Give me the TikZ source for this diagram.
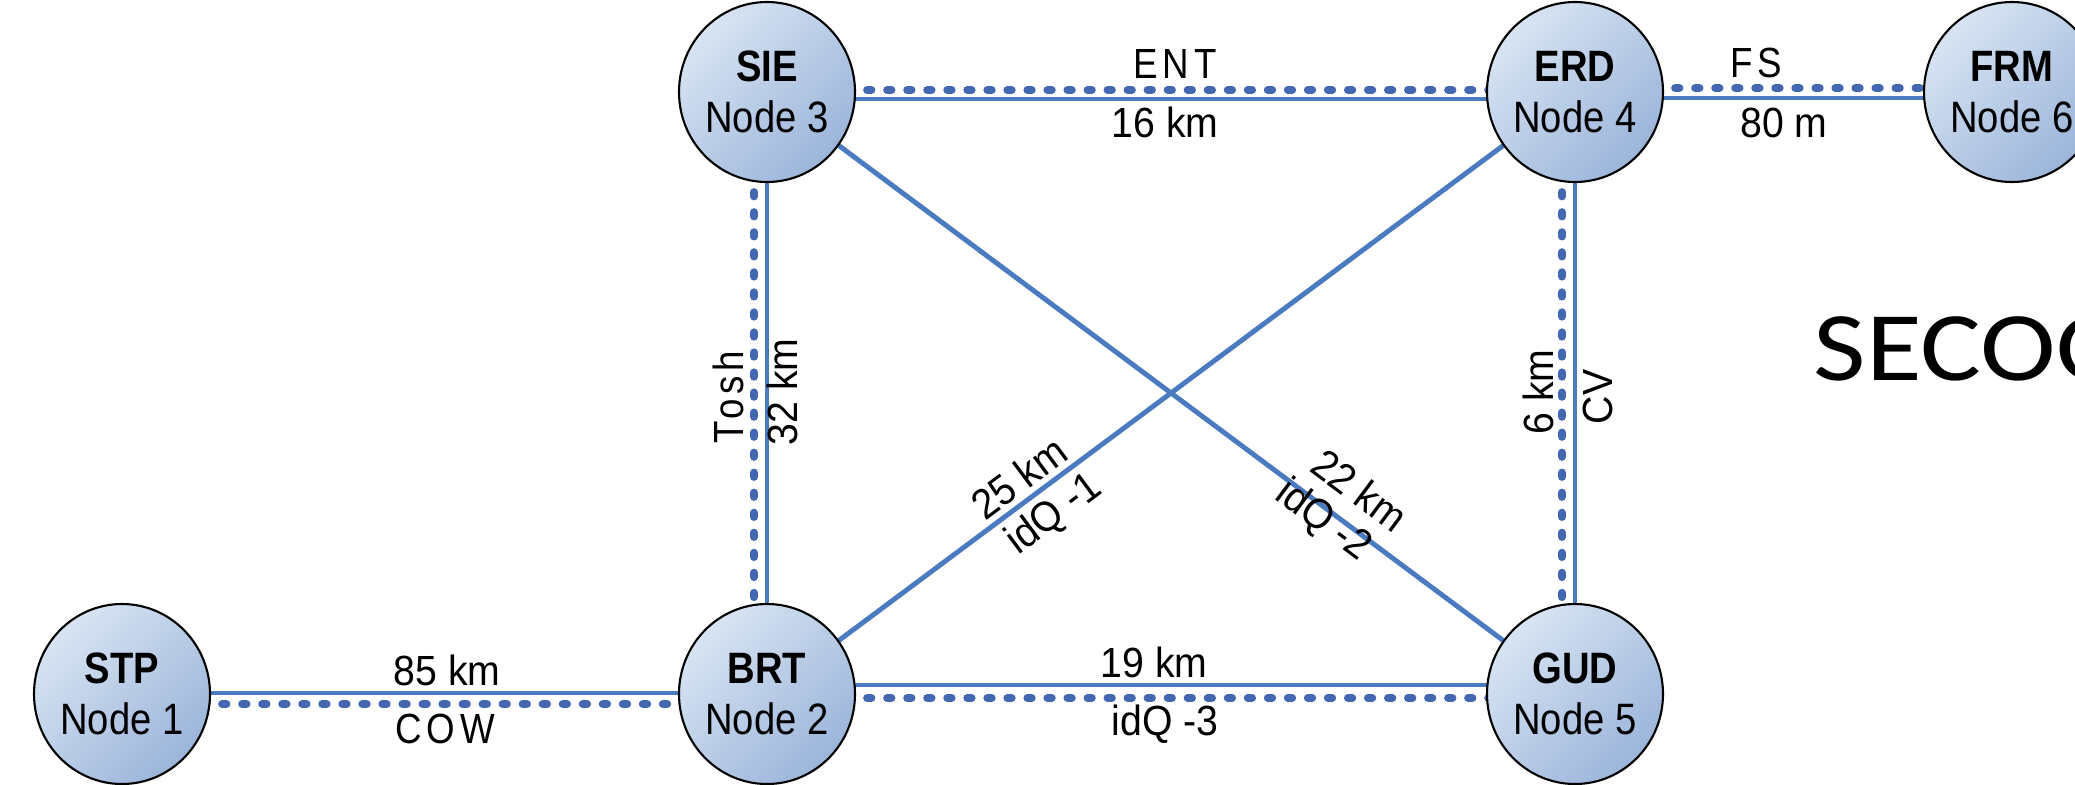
\documentclass[tikz,border=0pt]{standalone}
\usepackage{fontspec}
\setmainfont{Liberation Sans}[FakeStretch=0.87]
\newfontfamily\labelfont{Liberation Sans}[FakeStretch=0.93]
\newfontfamily\spacedfont{Liberation Sans}[FakeStretch=0.87,LetterSpace=12]
\newfontfamily\bannerfont{Carlito}[FakeStretch=1.16]
\usetikzlibrary{shapes.geometric,backgrounds}
\definecolor{linkblue}{RGB}{74,122,192}
\definecolor{dotblue}{RGB}{68,103,178}
\definecolor{nodelight}{RGB}{216,228,243}
\definecolor{nodedark}{RGB}{155,181,218}
\tikzset{
  netnode/.style = {ellipse, draw=black, line width=0.6pt, inner sep=0pt,
    minimum width=1.76cm, minimum height=1.80cm, align=center,
    top color=nodelight, bottom color=nodedark, shading angle=45,
    font=\fontsize{12.5}{14.5}\selectfont},% station
  fibre/.style = {draw=linkblue, line width=1.4pt},% quantum channel
  classic/.style = {draw=dotblue, line width=2.3pt, line cap=round,
    dash pattern=on 1.2pt off 4.5pt},% classical channel
  lbl/.style = {inner sep=0pt, text height=0.30cm, text depth=0pt,
    font=\labelfont\fontsize{12}{14}\selectfont},
  slbl/.style = {lbl, font=\spacedfont\fontsize{12}{14}\selectfont}
}

\begin{document}
\begin{tikzpicture}
\useasboundingbox (0,0) rectangle (20.75,7.84);
\clip (0,0) rectangle (20.75,7.84);

% stations
\node [netnode] (stp) at (1.22,0.90) {\textbf{STP}\\Node 1};
\node [netnode] (brt) at (7.67,0.90) {\textbf{BRT}\\Node 2};
\node [netnode] (sie) at (7.67,6.92) {\textbf{SIE}\\Node 3};
\node [netnode] (erd) at (15.75,6.92) {\textbf{ERD}\\Node 4};
\node [netnode] (gud) at (15.75,0.90) {\textbf{GUD}\\Node 5};
\node [netnode] (frm) at (20.12,6.92) {\textbf{FRM}\\Node 6};

% links, under the stations
\begin{pgfonlayer}{background}
  \draw [fibre, transform canvas={yshift=0.01cm}] (stp.center) -- (brt.center);
  \draw [classic, transform canvas={yshift=-0.10cm}] (stp.center) -- (brt.center);
  \draw [fibre, transform canvas={yshift=0.09cm}] (brt.center) -- (gud.center);
  \draw [classic, transform canvas={yshift=-0.04cm}] (brt.center) -- (gud.center);
  \draw [classic, transform canvas={yshift=0.02cm}] (sie.center) -- (erd.center);
  \draw [fibre, transform canvas={yshift=-0.07cm}] (sie.center) -- (erd.center);
  \draw [classic, transform canvas={yshift=0.04cm}] (erd.center) -- (frm.center);
  \draw [fibre, transform canvas={yshift=-0.06cm}] (erd.center) -- (frm.center);
  \draw [classic, transform canvas={xshift=-0.13cm}] (sie.center) -- (brt.center);
  \draw [fibre] (sie.center) -- (brt.center);
  \draw [classic, transform canvas={xshift=-0.13cm}] (erd.center) -- (gud.center);
  \draw [fibre] (erd.center) -- (gud.center);
  \draw [fibre] (sie.center) -- (gud.center);
  \draw [fibre] (brt.center) -- (erd.center);
\end{pgfonlayer}

% link labels
\node [lbl] (d12) at (4.47,1.14) {85 km};
\node [slbl] (c12) at (4.45,0.56) {COW};
\node [lbl] (d25) at (11.54,1.22) {19 km};
\node [lbl] (c25) at (11.65,0.64) {idQ -3};
\node [slbl] (c34) at (11.75,7.21) {ENT};
\node [lbl] (d34) at (11.65,6.62) {16 km};
\node [slbl] (c46) at (17.56,7.22) {FS};
\node [lbl] (d46) at (17.84,6.62) {80 m};
\node [slbl, rotate=90] (c23) at (7.28,3.87) {Tosh};
\node [lbl, rotate=90] (d23) at (7.82,3.92) {32 km};
\node [lbl, rotate=90] (d45) at (15.38,3.92) {6 km};
\node [lbl, rotate=90] (c45) at (15.97,3.87) {CV};
\node [lbl, rotate=36.7] (d24) at (10.19,3.06) {25 km};
\node [lbl, rotate=36.7] (c24) at (10.52,2.72) {idQ -1};
\node [lbl, rotate=-36.7] (d35) at (13.60,2.94) {22 km};
\node [lbl, rotate=-36.7] (c35) at (13.25,2.66) {idQ -2};

\node [anchor=base west, inner sep=0pt, font=\bannerfont\fontsize{28}{30}\selectfont]
  (title) at (18.13,4.04) {SECOQC};
\end{tikzpicture}
\end{document}
